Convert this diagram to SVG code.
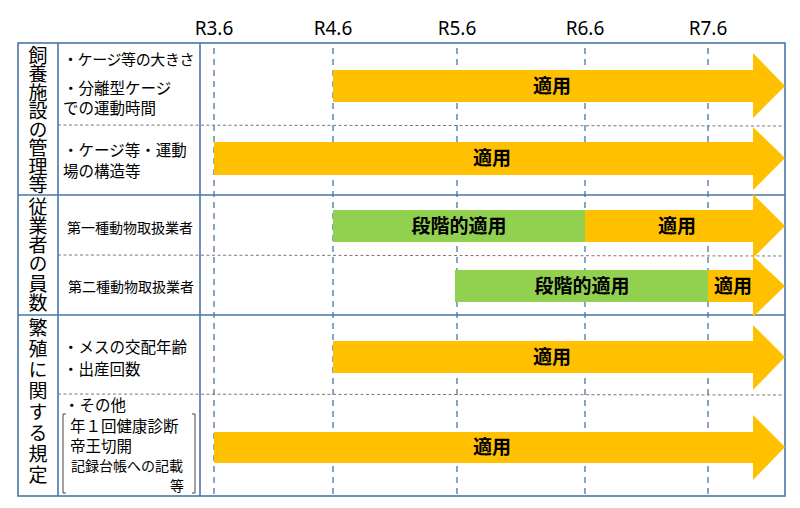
<svg xmlns="http://www.w3.org/2000/svg" width="800" height="508" viewBox="0 0 800 508">
<style>
.frame{fill:none;stroke:#4a76a8;stroke-width:1.6}
.solid{stroke:#4a76a8;stroke-width:1.6}
.vdash{stroke:#4a76a8;stroke-width:1.3;stroke-dasharray:6,5}
.hdash{stroke:#777;stroke-width:1;stroke-dasharray:3,2.5}
.hdr{font-family:"Noto Sans","Liberation Sans",sans-serif;font-size:19px;fill:#000;text-anchor:middle}
.cat{font-family:"Noto Sans CJK JP",sans-serif;font-size:19px;fill:#000;writing-mode:vertical-rl}
.item{font-family:"Noto Sans CJK JP",sans-serif;font-size:15.5px;fill:#000}
.small{font-family:"Noto Sans CJK JP",sans-serif;font-size:14px;fill:#000}
.lbl{font-family:"Noto Sans CJK JP",sans-serif;font-size:19px;font-weight:bold;fill:#000;text-anchor:middle}
.org{fill:#FFC000}
.grn{fill:#92D050}
.brk{fill:none;stroke:#444;stroke-width:1}
</style>
<rect width="800" height="508" fill="#fff"/>
<g id="headers">
<text class="hdr" x="214" y="35">R3.6</text>
<text class="hdr" x="333" y="35">R4.6</text>
<text class="hdr" x="457" y="35">R5.6</text>
<text class="hdr" x="585" y="35">R6.6</text>
<text class="hdr" x="708" y="35">R7.6</text>
</g>
<g id="grid">
<line class="vdash" x1="214" y1="48" x2="214" y2="496"/>
<line class="vdash" x1="333" y1="48" x2="333" y2="496"/>
<line class="vdash" x1="457" y1="48" x2="457" y2="496"/>
<line class="vdash" x1="585" y1="48" x2="585" y2="496"/>
<line class="vdash" x1="708" y1="48" x2="708" y2="496"/>
<line class="hdash" x1="58" y1="125" x2="785" y2="126"/>
<line class="hdash" x1="58" y1="255" x2="785" y2="256"/>
<line class="hdash" x1="58" y1="394" x2="785" y2="395"/>
<line class="solid" x1="18" y1="195" x2="785" y2="195"/>
<line class="solid" x1="18" y1="315" x2="785" y2="315"/>
<line class="solid" x1="58" y1="43" x2="58" y2="496"/>
<line class="solid" x1="200" y1="43" x2="200" y2="496"/>
<rect class="frame" x="18" y="43" width="767" height="453"/>
</g>
<g id="cat1">
<text class="cat" x="38" y="46" letter-spacing="-0.5">飼養施設の管理等</text>
</g>
<g id="cat2">
<text class="cat" x="38" y="197" letter-spacing="0.2">従業者の員数</text>
</g>
<g id="cat3">
<text class="cat" x="38" y="318" letter-spacing="2">繁殖に関する規定</text>
</g>
<g id="items">
<text class="item" x="63" y="65" style="font-size:15px;letter-spacing:-0.4px">・ケージ等の大きさ</text>
<text class="item" x="63" y="93.5">・分離型ケージ</text>
<text class="item" x="63" y="113.5">での運動時間</text>
<text class="item" x="63" y="156">・ケージ等・運動</text>
<text class="item" x="63" y="177">場の構造等</text>
<text class="small" x="67" y="233">第一種動物取扱業者</text>
<text class="small" x="68" y="292">第二種動物取扱業者</text>
<text class="item" x="63" y="353">・メスの交配年齢</text>
<text class="item" x="63" y="375">・出産回数</text>
<text class="item" x="64" y="411">・その他</text>
<text class="item"><tspan x="70" y="432">年１回健康診断</tspan><tspan x="70" y="452">帝王切開</tspan><tspan x="71" y="471" style="font-size:14px">記録台帳への記載</tspan><tspan x="184" y="491" style="font-size:14px" text-anchor="end">等</tspan></text>
<path class="brk" d="M66,414 H63 V493 H66"/>
<path class="brk" d="M192,414 H195 V493 H192"/>
</g>
<g id="bar1">
<polygon class="org" points="333,70 753,70 753,53 785,86 753,118 753,102 333,102"/>
<text class="lbl" x="552" y="93">適用</text>
</g>
<g id="bar2">
<polygon class="org" points="214,142 753,142 753,127 785,158 753,190 753,175 214,175"/>
<text class="lbl" x="492" y="165">適用</text>
</g>
<g id="bar3">
<polygon class="org" points="585,210 753,210 753,194 785,226 753,258 753,242 585,242"/>
<rect class="grn" x="333" y="210" width="252" height="32"/>
<text class="lbl" x="459" y="233">段階的適用</text>
<text class="lbl" x="677" y="233">適用</text>
</g>
<g id="bar4">
<polygon class="org" points="708,270 753,270 753,256 785,286 753,317 753,302 708,302"/>
<rect class="grn" x="455" y="270" width="253" height="32"/>
<text class="lbl" x="582" y="293">段階的適用</text>
<text class="lbl" x="733" y="293">適用</text>
</g>
<g id="bar5">
<polygon class="org" points="333,341 753,341 753,325 785,357 753,390 753,373 333,373"/>
<text class="lbl" x="552" y="364">適用</text>
</g>
<g id="bar6">
<polygon class="org" points="214,432 753,432 753,415 785,447 753,480 753,463 214,463"/>
<text class="lbl" x="492" y="454">適用</text>
</g>
</svg>
